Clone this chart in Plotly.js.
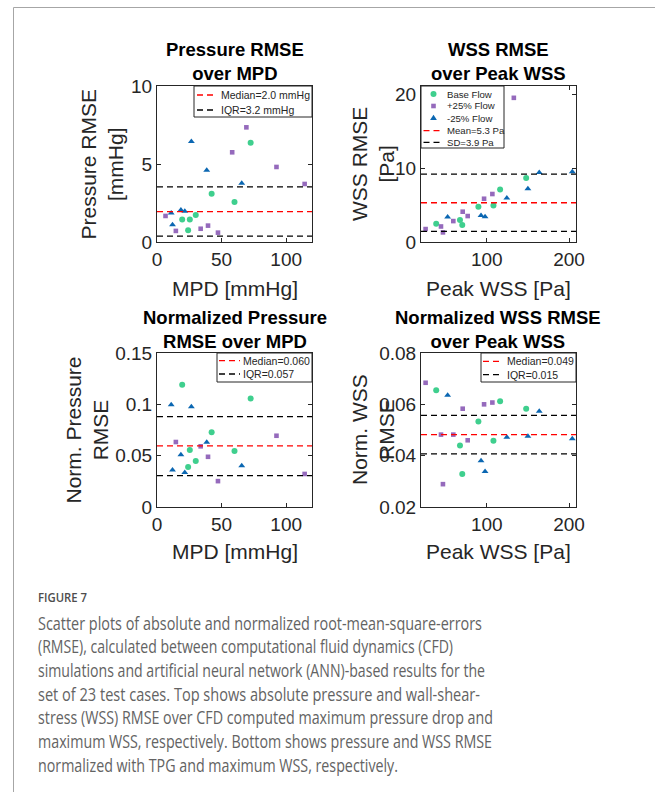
<!DOCTYPE html>
<html><head><meta charset="utf-8">
<script src="https://cdn.plot.ly/plotly-3.0.1.min.js"></script>
<style>
html,body{margin:0;padding:0;background:#fff;}
#wrap{position:relative;width:655px;height:794px;overflow:hidden;}
#chart{position:absolute;left:0;top:0;width:655px;height:794px;}
#cap{position:absolute;left:0;top:0;pointer-events:none;}
</style>
</head><body>
<div id="wrap"><div id="chart"></div>
<svg id="cap" width="655" height="794" xmlns="http://www.w3.org/2000/svg"></svg>
</div>
<script>
// ---------------- data ----------------
// Pressure: MPD [mmHg] vs RMSE [mmHg]
const mpdBase = [72.5, 42.3, 60.0, 30.0, 19.5, 25.4, 24.1];
const pRmseBase = [6.37, 3.10, 2.56, 1.73, 1.45, 1.45, 0.75];
const normPBase = [0.1056, 0.0729, 0.0546, 0.0447, 0.119, 0.0556, 0.039];

const mpdPlus = [69.2, 58.2, 92.5, 114.3, 6.6, 33.8, 39.5, 47.2, 14.6];
const pRmsePlus = [7.35, 5.75, 4.81, 3.72, 1.67, 0.85, 1.05, 0.60, 0.71];
const mpdPlusNorm = [92.5, 114.3, 33.8, 39.5, 47.2, 14.6];
const normPPlus = [0.0694, 0.0322, 0.0591, 0.0489, 0.0252, 0.0633];

const mpdMinus = [26.6, 38.5, 65.6, 18.5, 21.5, 11.0, 12.0];
const pRmseMinus = [6.45, 4.60, 3.76, 2.05, 1.97, 1.86, 1.11];
const normPMinus = [0.0976, 0.063, 0.0402, 0.0508, 0.0335, 0.0995, 0.036];

// WSS: peak WSS [Pa] vs RMSE [Pa]
const wssBase = [147.9, 116.2, 108.1, 89.8, 67.4, 70.2, 38.5];
const wRmseBase = [8.65, 7.11, 4.95, 4.77, 2.97, 2.30, 2.47];
const normWBase = [0.0583, 0.0612, 0.0458, 0.0533, 0.0440, 0.0329, 0.0655];

const wssPlus = [132.9, 106.8, 96.7, 76.8, 70.7, 59.3, 44.3, 46.7, 25.6];
const wRmsePlus = [19.5, 6.49, 5.85, 3.51, 4.10, 2.83, 2.10, 1.30, 1.75];
const wssPlusNorm = [106.8, 96.7, 76.8, 70.7, 59.3, 44.3, 46.7, 25.6];
const normWPlus = [0.0607, 0.0600, 0.0460, 0.0583, 0.0482, 0.0482, 0.0289, 0.0684];

const wssMinus = [204.0, 163.8, 150.0, 124.4, 93.0, 97.9, 52.4];
const wRmseMinus = [9.50, 9.41, 7.20, 5.94, 3.60, 3.42, 3.37];
const normWMinus = [0.0466, 0.0573, 0.0476, 0.0472, 0.0380, 0.0338, 0.0635];

// reference lines: [centre, lower, upper]
const pLines = [1.95, 0.38, 3.53];
const wLines = [5.31, 1.43, 9.19];
const npLines = [0.0595, 0.0306, 0.088];
const nwLines = [0.0482, 0.0407, 0.0557];

const seriesNames = ['Base Flow', '+25% Flow', '-25% Flow'];
const legendTexts = [
  ['Median=2.0 mmHg', 'IQR=3.2 mmHg'],
  ['Mean=5.3 Pa', 'SD=3.9 Pa'],
  ['Median=0.060', 'IQR=0.057'],
  ['Median=0.049', 'IQR=0.015']
];
const panelTitles = ['Pressure RMSE<br>over MPD', 'WSS RMSE<br>over Peak WSS',
  'Normalized Pressure<br>RMSE over MPD', 'Normalized WSS RMSE<br>over Peak WSS'];
const yTitles = ['Pressure RMSE<br>[mmHg]', 'WSS RMSE<br>[Pa]', 'Norm. Pressure<br>RMSE', 'Norm. WSS<br>RMSE'];
const xTitles = ['MPD [mmHg]', 'Peak WSS [Pa]', 'MPD [mmHg]', 'Peak WSS [Pa]'];

// ---------------- styling ----------------
const W = 655, H = 794;
const F = 'Liberation Sans, Arial, Helvetica, sans-serif';
const AX = '#262626';
const cGreen = '#3fcf8e', cPurple = '#956abc', cBlue = '#0b67b2';
const sym = [
  {symbol: 'circle', size: 6, color: cGreen},
  {symbol: 'square', size: 4.6, color: cPurple},
  {symbol: 'triangle-up', size: 6, color: cBlue}
];
const PX = x => x / W, PY = y => 1 - y / H;

function trace(x, y, k, xa, ya) {
  return {x: x, y: y, type: 'scatter', mode: 'markers', name: seriesNames[k],
    xaxis: xa, yaxis: ya, showlegend: false, hoverinfo: 'skip',
    marker: {symbol: sym[k].symbol, size: sym[k].size, color: sym[k].color, line: {width: 0}}};
}
const data = [
  trace(mpdBase, pRmseBase, 0, 'x', 'y'),
  trace(mpdPlus, pRmsePlus, 1, 'x', 'y'),
  trace(mpdMinus, pRmseMinus, 2, 'x', 'y'),
  trace(wssBase, wRmseBase, 0, 'x2', 'y2'),
  trace(wssPlus, wRmsePlus, 1, 'x2', 'y2'),
  trace(wssMinus, wRmseMinus, 2, 'x2', 'y2'),
  trace(mpdBase, normPBase, 0, 'x3', 'y3'),
  trace(mpdPlusNorm, normPPlus, 1, 'x3', 'y3'),
  trace(mpdMinus, normPMinus, 2, 'x3', 'y3'),
  trace(wssBase, normWBase, 0, 'x4', 'y4'),
  trace(wssPlusNorm, normWPlus, 1, 'x4', 'y4'),
  trace(wssMinus, normWMinus, 2, 'x4', 'y4')
];

function axis(dom, range, tv, tt, anchor) {
  return {domain: dom, range: range, tickvals: tv, ticktext: tt, anchor: anchor,
    ticks: 'inside', ticklen: 4, tickwidth: 1, tickcolor: AX,
    showline: true, linecolor: AX, linewidth: 1, mirror: 'allticks',
    showgrid: false, zeroline: false, fixedrange: true, automargin: false,
    tickfont: {family: F, size: 19, color: AX}};
}
const dX1 = [PX(157), PX(312)], dX2 = [PX(421), PX(576)];
const dYT = [PY(242), PY(86)], dYB = [PY(507), PY(353)];

const layout = {
  width: W, height: H, margin: {l: 0, r: 0, t: 0, b: 0},
  paper_bgcolor: '#fff', plot_bgcolor: '#fff', showlegend: false,
  font: {family: F, color: AX},
  xaxis: axis(dX1, [0, 120], [0, 50, 100], ['0', '50', '100'], 'y'),
  yaxis: axis(dYT, [0, 10], [0, 5, 10], ['0', '5', '10'], 'x'),
  xaxis2: axis(dX2, [20, 208.5], [100, 200], ['100', '200'], 'y2'),
  yaxis2: axis(dYT, [0, 21.1], [0, 10, 20], ['0', '10', '20'], 'x2'),
  xaxis3: axis(dX1, [0, 120], [0, 50, 100], ['0', '50', '100'], 'y3'),
  yaxis3: axis(dYB, [0, 0.15], [0, 0.05, 0.1, 0.15], ['0', '0.05', '0.1', '0.15'], 'x3'),
  xaxis4: axis(dX2, [20, 208.5], [100, 200], ['100', '200'], 'y4'),
  yaxis4: axis(dYB, [0.02, 0.08], [0.02, 0.04, 0.06, 0.08], ['0.02', '0.04', '0.06', '0.08'], 'x4'),
  shapes: [], annotations: []
};

// reference lines
const refSets = [[pLines, 'x', 'y'], [wLines, 'x2', 'y2'], [npLines, 'x3', 'y3'], [nwLines, 'x4', 'y4']];
refSets.forEach(([vals, xa, ya]) => {
  vals.forEach((v, i) => {
    layout.shapes.push({type: 'line', xref: xa + ' domain', yref: ya, x0: 0, x1: 1, y0: v, y1: v,
      layer: 'above', line: {color: i === 0 ? '#ff0000' : '#000000', width: 1.3, dash: '6px,4px'}});
  });
});

// titles
const centersX = [234.5, 498.5, 234.5, 498.5];
const titleY = [61.5, 61.5, 329.5, 329.5];
const yTitleX = [101.5, 373, 86.5, 373];
const yTitleY = [164, 164, 430, 430];
const xTitleY = [289, 289, 551, 551];
for (let i = 0; i < 4; i++) {
  layout.annotations.push({text: '<b>' + panelTitles[i].replace('<br>', '</b><br><b>') + '</b>', xref: 'paper', yref: 'paper',
    x: PX(centersX[i]), y: PY(titleY[i]), xanchor: 'center', yanchor: 'middle', showarrow: false,
    font: {family: F, size: 18.5, color: '#000'}});
  layout.annotations.push({text: yTitles[i], xref: 'paper', yref: 'paper', textangle: -90,
    x: PX(yTitleX[i]), y: PY(yTitleY[i]), xanchor: 'center', yanchor: 'middle', showarrow: false,
    font: {family: F, size: 21, color: AX}});
  layout.annotations.push({text: xTitles[i], xref: 'paper', yref: 'paper',
    x: PX(centersX[i]), y: PY(xTitleY[i]), xanchor: 'center', yanchor: 'middle', showarrow: false,
    font: {family: F, size: 21, color: AX}});
}

// hand-drawn legends (boxes in pixel positions)
function legend(box, rows, lineX, textX, fs, entries) {
  layout.shapes.push({type: 'rect', xref: 'paper', yref: 'paper', x0: PX(box[0]), x1: PX(box[2]),
    y0: PY(box[3]), y1: PY(box[1]), fillcolor: '#fff', layer: 'above', line: {color: AX, width: 1}});
  entries.forEach((e, i) => {
    const ry = rows[i];
    if (e.kind === 'line') {
      layout.shapes.push({type: 'line', xref: 'paper', yref: 'paper', x0: PX(lineX[0]), x1: PX(lineX[1]),
        y0: PY(ry), y1: PY(ry), layer: 'above', line: {color: e.color, width: 1.3, dash: '6px,4px'}});
    } else {
      const mx = PX((lineX[0] + lineX[1]) / 2), my = PY(ry);
      const base = {xref: 'paper', yref: 'paper', xsizemode: 'pixel', ysizemode: 'pixel',
        xanchor: mx, yanchor: my, layer: 'above', fillcolor: e.color, line: {width: 0}};
      if (e.kind === 'circle') layout.shapes.push(Object.assign({type: 'circle', x0: -3, x1: 3, y0: -3, y1: 3}, base));
      if (e.kind === 'square') layout.shapes.push(Object.assign({type: 'rect', x0: -2.3, x1: 2.3, y0: -2.3, y1: 2.3}, base));
      if (e.kind === 'tri') layout.shapes.push(Object.assign({type: 'path', path: 'M-3.4,-1.8 L3.4,-1.8 L0,3.6 Z'}, base));
    }
    layout.annotations.push({text: e.text, xref: 'paper', yref: 'paper', x: PX(textX), y: PY(ry),
      xanchor: 'left', yanchor: 'middle', showarrow: false, font: {family: F, size: fs, color: AX}});
  });
}
legend([194, 86, 312, 117], [95, 110], [197, 213], 219, 10.5, [
  {kind: 'line', color: '#ff0000', text: legendTexts[0][0]},
  {kind: 'line', color: '#000', text: legendTexts[0][1]}]);
legend([421, 86, 504, 148], [94, 106, 118.3, 130.7, 142.3], [423.5, 443.5], 445, 9.6, [
  {kind: 'circle', color: cGreen, text: seriesNames[0]},
  {kind: 'square', color: cPurple, text: seriesNames[1]},
  {kind: 'tri', color: cBlue, text: seriesNames[2]},
  {kind: 'line', color: '#ff0000', text: legendTexts[1][0]},
  {kind: 'line', color: '#000', text: legendTexts[1][1]}]);
legend([217, 353, 312, 382], [360.7, 374], [219, 240], 241, 10.5, [
  {kind: 'line', color: '#ff0000', text: legendTexts[2][0]},
  {kind: 'line', color: '#000', text: legendTexts[2][1]}]);
legend([481, 353, 576, 382], [361.3, 374.7], [483, 500], 505, 10.5, [
  {kind: 'line', color: '#ff0000', text: legendTexts[3][0]},
  {kind: 'line', color: '#000', text: legendTexts[3][1]}]);

Plotly.newPlot('chart', data, layout, {displayModeBar: false, staticPlot: true});

// ---------------- figure frame and caption ----------------
const captionLines = [
  'Scatter plots of absolute and normalized root-mean-square-errors',
  '(RMSE), calculated between computational fluid dynamics (CFD)',
  'simulations and artificial neural network (ANN)-based results for the',
  'set of 23 test cases. Top shows absolute pressure and wall-shear-',
  'stress (WSS) RMSE over CFD computed maximum pressure drop and',
  'maximum WSS, respectively. Bottom shows pressure and WSS RMSE',
  'normalized with TPG and maximum WSS, respectively.'
];
const captionWidths = [444, 415, 447, 442, 455, 454, 360];
const NS = 'http://www.w3.org/2000/svg';
const svg = document.getElementById('cap');
function el(tag, attrs, txt) {
  const e = document.createElementNS(NS, tag);
  for (const k in attrs) e.setAttribute(k, attrs[k]);
  if (txt) e.textContent = txt;
  svg.appendChild(e);
  return e;
}
el('line', {x1: 13.5, y1: 7.5, x2: 655, y2: 7.5, stroke: '#a6a6a6', 'stroke-width': 1});
el('line', {x1: 13.5, y1: 7.5, x2: 13.5, y2: 792, stroke: '#a6a6a6', 'stroke-width': 1});
el('text', {x: 38, y: 601.5, 'font-family': 'Open Sans, Noto Sans, sans-serif', 'font-size': 13,
  'font-weight': 600, fill: '#4d4d4d', textLength: 49, lengthAdjust: 'spacingAndGlyphs'}, 'FIGURE 7');
captionLines.forEach((t, i) => {
  el('text', {x: 38, y: 629.5 + i * 23.7, 'font-family': 'Open Sans, Noto Sans, sans-serif', 'font-size': 18,
    fill: '#636363', textLength: captionWidths[i], lengthAdjust: 'spacingAndGlyphs'}, t);
});
</script>
</body></html>
